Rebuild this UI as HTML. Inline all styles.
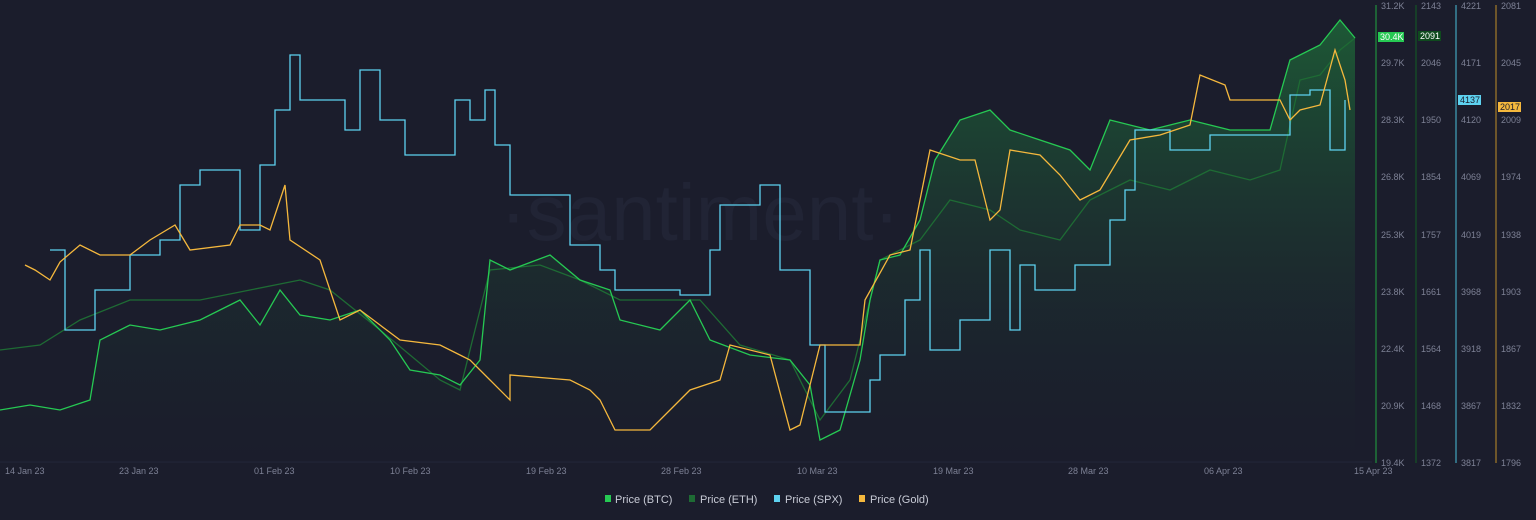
<!DOCTYPE html><html><head><style>body{margin:0;background:#1b1d2c;}svg{display:block;font-family:"Liberation Sans",sans-serif;}</style></head><body>
<svg width="1536" height="520" viewBox="0 0 1536 520">
<defs><linearGradient id="g" x1="0" y1="0" x2="0" y2="1"><stop offset="0" stop-color="#1f8a3e" stop-opacity="0.55"/><stop offset="1" stop-color="#1b1d2c" stop-opacity="0.1"/></linearGradient></defs>
<rect width="1536" height="520" fill="#1b1d2c"/>
<g stroke="#23263a" stroke-width="1">
<line x1="0" y1="462" x2="1372" y2="462"/>
</g>
<text x="700" y="240" font-size="80" fill="#212435" text-anchor="middle">·santiment·</text>
<g font-size="9" fill="#7d8195">
<text x="5" y="474">14 Jan 23</text><text x="119" y="474">23 Jan 23</text><text x="254" y="474">01 Feb 23</text><text x="390" y="474">10 Feb 23</text><text x="526" y="474">19 Feb 23</text><text x="661" y="474">28 Feb 23</text><text x="797" y="474">10 Mar 23</text><text x="933" y="474">19 Mar 23</text><text x="1068" y="474">28 Mar 23</text><text x="1204" y="474">06 Apr 23</text><text x="1354" y="474">15 Apr 23</text>
</g>
<polygon fill="url(#g)" points="0,410 30,405 60,410 90,400 100,340 130,325 160,330 200,320 240,300 260,325 280,290 300,315 330,320 360,310 390,340 410,370 440,375 460,385 480,360 490,260 510,270 550,255 580,280 610,290 620,320 660,330 690,300 710,340 750,355 790,360 810,385 820,440 840,430 860,360 870,300 880,260 900,255 920,220 935,160 960,120 990,110 1010,130 1040,140 1070,150 1090,170 1110,120 1150,130 1190,120 1230,130 1270,130 1290,60 1320,45 1340,20 1355,38 1355,462 0,462"/>
<polyline fill="none" stroke="#1e6b34" stroke-width="1.3" points="0,350 40,345 80,320 130,300 200,300 250,290 300,280 330,290 380,330 440,380 460,390 490,270 540,265 580,280 620,300 700,300 740,345 790,360 820,420 850,380 880,260 920,240 950,200 990,210 1020,230 1060,240 1090,200 1130,180 1170,190 1210,170 1250,180 1280,170 1300,80 1320,75 1340,50 1355,38"/>
<polyline fill="none" stroke="#26c953" stroke-width="1.3" points="0,410 30,405 60,410 90,400 100,340 130,325 160,330 200,320 240,300 260,325 280,290 300,315 330,320 360,310 390,340 410,370 440,375 460,385 480,360 490,260 510,270 550,255 580,280 610,290 620,320 660,330 690,300 710,340 750,355 790,360 810,385 820,440 840,430 860,360 870,300 880,260 900,255 920,220 935,160 960,120 990,110 1010,130 1040,140 1070,150 1090,170 1110,120 1150,130 1190,120 1230,130 1270,130 1290,60 1320,45 1340,20 1355,38"/>
<polyline fill="none" stroke="#5ed2f0" stroke-width="1.3" points="50,250 65,250 65,330 95,330 95,290 130,290 130,255 160,255 160,240 180,240 180,185 200,185 200,170 240,170 240,230 260,230 260,165 275,165 275,110 290,110 290,55 300,55 300,100 345,100 345,130 360,130 360,70 380,70 380,120 405,120 405,155 455,155 455,100 470,100 470,120 485,120 485,90 495,90 495,145 510,145 510,195 570,195 570,245 600,245 600,270 615,270 615,290 680,290 680,295 710,295 710,250 720,250 720,205 760,205 760,185 780,185 780,270 810,270 810,345 825,345 825,412 870,412 870,380 880,380 880,355 905,355 905,300 920,300 920,250 930,250 930,350 960,350 960,320 990,320 990,250 1010,250 1010,330 1020,330 1020,265 1035,265 1035,290 1075,290 1075,265 1110,265 1110,220 1125,220 1125,190 1135,190 1135,130 1170,130 1170,150 1210,150 1210,135 1290,135 1290,95 1310,95 1310,90 1330,90 1330,150 1345,150 1345,100"/>
<polyline fill="none" stroke="#f5b83d" stroke-width="1.3" points="25,265 35,270 50,280 60,262 80,245 100,255 130,255 150,240 175,225 190,250 230,245 240,225 260,225 270,230 285,185 290,240 320,260 340,320 360,310 380,325 400,340 440,345 460,355 470,360 490,380 510,400 510,375 570,380 590,390 600,400 615,430 650,430 670,410 690,390 720,380 730,345 770,355 790,430 800,425 820,345 860,345 865,300 890,255 910,250 930,150 960,160 975,160 990,220 1000,210 1010,150 1040,155 1060,175 1080,200 1100,190 1130,140 1160,135 1190,125 1200,75 1225,85 1230,100 1280,100 1290,120 1300,110 1320,105 1335,50 1345,80 1350,110"/>
<line x1="1376" y1="5" x2="1376" y2="463" stroke="#1f7a3a" stroke-width="1.5"/>
<line x1="1416" y1="5" x2="1416" y2="463" stroke="#164a26" stroke-width="1.5"/>
<line x1="1456" y1="5" x2="1456" y2="463" stroke="#3a8aa0" stroke-width="1.5"/>
<line x1="1496" y1="5" x2="1496" y2="463" stroke="#8a6a2a" stroke-width="1.5"/>
<g font-size="9" fill="#7d8195">
<text x="1381" y="9">31.2K</text><text x="1381" y="66">29.7K</text><text x="1381" y="123">28.3K</text><text x="1381" y="180">26.8K</text><text x="1381" y="238">25.3K</text><text x="1381" y="295">23.8K</text><text x="1381" y="352">22.4K</text><text x="1381" y="409">20.9K</text><text x="1381" y="466">19.4K</text>
<text x="1421" y="9">2143</text><text x="1421" y="66">2046</text><text x="1421" y="123">1950</text><text x="1421" y="180">1854</text><text x="1421" y="238">1757</text><text x="1421" y="295">1661</text><text x="1421" y="352">1564</text><text x="1421" y="409">1468</text><text x="1421" y="466">1372</text>
<text x="1461" y="9">4221</text><text x="1461" y="66">4171</text><text x="1461" y="123">4120</text><text x="1461" y="180">4069</text><text x="1461" y="238">4019</text><text x="1461" y="295">3968</text><text x="1461" y="352">3918</text><text x="1461" y="409">3867</text><text x="1461" y="466">3817</text>
<text x="1501" y="9">2081</text><text x="1501" y="66">2045</text><text x="1501" y="123">2009</text><text x="1501" y="180">1974</text><text x="1501" y="238">1938</text><text x="1501" y="295">1903</text><text x="1501" y="352">1867</text><text x="1501" y="409">1832</text><text x="1501" y="466">1796</text>
</g>
<rect x="1378" y="32" width="26" height="10" fill="#26c953"/><text x="1380" y="40" font-size="9" fill="#fff">30.4K</text>
<rect x="1418" y="31" width="23" height="10" fill="#0f4a1e"/><text x="1420" y="39" font-size="9" fill="#fff">2091</text>
<rect x="1458" y="95" width="23" height="10" fill="#5ed2f0"/><text x="1460" y="103" font-size="9" fill="#1b1d2c">4137</text>
<rect x="1498" y="102" width="23" height="10" fill="#f5b83d"/><text x="1500" y="110" font-size="9" fill="#1b1d2c">2017</text>
<g font-size="11" fill="#c8cbd6">
<rect x="605" y="495" width="6" height="7" fill="#26c953"/><text x="615" y="503">Price (BTC)</text>
<rect x="689" y="495" width="6" height="7" fill="#1e6b34"/><text x="700" y="503">Price (ETH)</text>
<rect x="774" y="495" width="6" height="7" fill="#5ed2f0"/><text x="785" y="503">Price (SPX)</text>
<rect x="859" y="495" width="6" height="7" fill="#f5b83d"/><text x="870" y="503">Price (Gold)</text>
</g>
</svg></body></html>
